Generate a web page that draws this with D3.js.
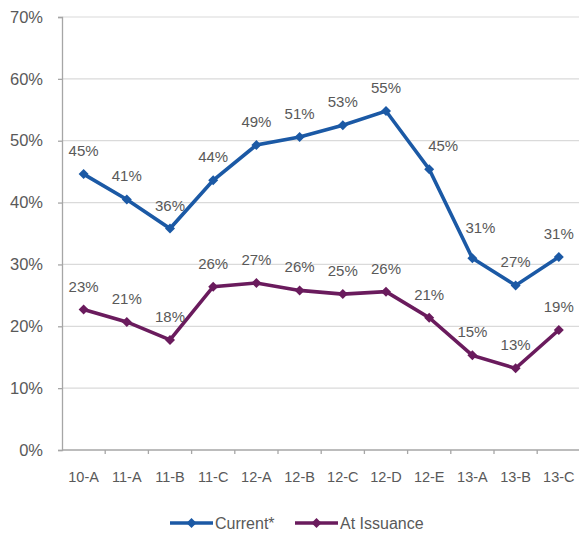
<!DOCTYPE html>
<html>
<head>
<meta charset="utf-8">
<script src="https://cdn.jsdelivr.net/npm/d3@7"></script>
<style>
  html, body { margin: 0; padding: 0; background: #fff; }
  svg { display: block; }
  text { font-family: "Liberation Sans", Arial, sans-serif; fill: #595959; }
</style>
</head>
<body>
<svg id="chart" width="579" height="534"></svg>
<script>
const categories = ["10-A", "11-A", "11-B", "11-C", "12-A", "12-B", "12-C", "12-D", "12-E", "13-A", "13-B", "13-C"];
const currentValues = [0.446, 0.405, 0.358, 0.436, 0.493, 0.506, 0.525, 0.548, 0.454, 0.310, 0.266, 0.312];
const issuanceValues = [0.227, 0.207, 0.178, 0.264, 0.270, 0.258, 0.252, 0.256, 0.214, 0.153, 0.132, 0.194];
const yTicks = [0, 0.1, 0.2, 0.3, 0.4, 0.5, 0.6, 0.7];
const seriesNames = ["Current*", "At Issuance"];
const seriesColors = ["#1b59a5", "#6a1b5d"];

const svg = d3.select("#chart");
const margin = { left: 62, top: 17, right: -1.4, bottom: 84 };
const W = 579, H = 534;

const x = d3.scaleBand().domain(categories).range([margin.left, W - margin.right]).padding(0);
const y = d3.scaleLinear().domain([0, 0.7]).range([H - margin.bottom, margin.top]);

// horizontal gridlines
svg.append("g")
  .selectAll("line")
  .data(yTicks.filter(d => d > 0))
  .join("line")
  .attr("x1", margin.left).attr("x2", W)
  .attr("y1", d => y(d)).attr("y2", d => y(d))
  .attr("stroke", "#dadada").attr("stroke-width", 1.2);

// y axis
const yAxis = svg.append("g")
  .attr("transform", `translate(${margin.left},0)`)
  .call(d3.axisLeft(y).tickValues(yTicks).tickFormat(d3.format(".0%")).tickSize(4).tickPadding(15));
yAxis.select(".domain").attr("stroke", "#a6a6a6").attr("stroke-width", 1.3);
yAxis.selectAll(".tick line").attr("stroke", "#a6a6a6").attr("stroke-width", 1.3);
yAxis.selectAll("text").attr("font-size", 16.5).style("fill", "#595959");

// x axis with ticks at band boundaries
const xAxisY = y(0);
svg.append("line")
  .attr("x1", margin.left).attr("x2", W)
  .attr("y1", xAxisY).attr("y2", xAxisY)
  .attr("stroke", "#a6a6a6").attr("stroke-width", 1.3);
svg.append("g")
  .selectAll("line")
  .data(categories.slice(1))
  .join("line")
  .attr("x1", d => x(d)).attr("x2", d => x(d))
  .attr("y1", xAxisY).attr("y2", xAxisY + 4)
  .attr("stroke", "#a6a6a6").attr("stroke-width", 1.3);
svg.append("g")
  .selectAll("text")
  .data(categories)
  .join("text")
  .attr("x", d => x(d) + x.bandwidth() / 2)
  .attr("y", xAxisY + 32)
  .attr("text-anchor", "middle")
  .attr("font-size", 14.5)
  .text(d => d);

const cx = c => x(c) + x.bandwidth() / 2;
const line = d3.line().x((d, i) => cx(categories[i])).y(d => y(d));

// square diamond marker (equal width and height)
const squareDiamond = {
  draw(ctx, size) {
    const r = Math.sqrt(size / 2);
    ctx.moveTo(0, -r); ctx.lineTo(r, 0); ctx.lineTo(0, r); ctx.lineTo(-r, 0); ctx.closePath();
  }
};
const diamond = d3.symbol().type(squareDiamond).size(50);

// a couple of labels sit beside the steep segment so the line stays clear
const labelNudge = { "0|12-E": [14, 0], "0|13-A": [8, -7] };

[currentValues, issuanceValues].forEach((vals, si) => {
  const color = seriesColors[si];
  const g = svg.append("g");
  g.append("path")
    .datum(vals)
    .attr("d", line)
    .attr("fill", "none")
    .attr("stroke", color)
    .attr("stroke-width", 3.6)
    .attr("stroke-linejoin", "miter");
  g.selectAll("path.m")
    .data(vals)
    .join("path")
    .attr("class", "m")
    .attr("d", diamond)
    .attr("transform", (d, i) => `translate(${cx(categories[i])},${y(d)})`)
    .attr("fill", color);
  g.selectAll("text")
    .data(vals)
    .join("text")
    .attr("x", (d, i) => cx(categories[i]) + (labelNudge[si + "|" + categories[i]] || [0, 0])[0])
    .attr("y", (d, i) => y(d) - 18 + (labelNudge[si + "|" + categories[i]] || [0, 0])[1])
    .attr("text-anchor", "middle")
    .attr("font-size", 15)
    .text(d => d3.format(".0%")(d));
});

// legend
const legendY = 523;
const legendItems = [
  { name: seriesNames[0], color: seriesColors[0], x0: 170 },
  { name: seriesNames[1], color: seriesColors[1], x0: 295 }
];
const lg = svg.append("g");
legendItems.forEach(item => {
  lg.append("line")
    .attr("x1", item.x0).attr("x2", item.x0 + 43)
    .attr("y1", legendY).attr("y2", legendY)
    .attr("stroke", item.color).attr("stroke-width", 3.6);
  lg.append("path")
    .attr("d", diamond)
    .attr("transform", `translate(${item.x0 + 21.5},${legendY})`)
    .attr("fill", item.color);
  lg.append("text")
    .attr("x", item.x0 + 45)
    .attr("y", legendY + 5.5)
    .attr("font-size", 16)
    .text(item.name);
});
</script>
</body>
</html>
